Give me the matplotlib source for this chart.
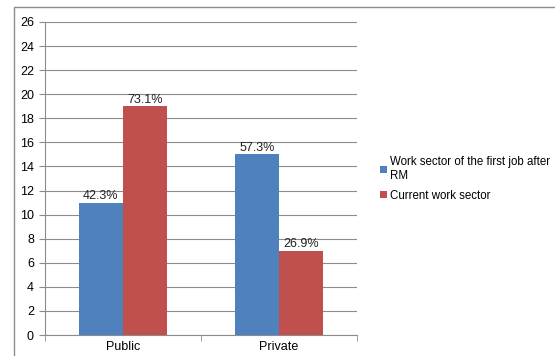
import matplotlib
matplotlib.use("Agg")
import matplotlib.pyplot as plt
from matplotlib.patches import Rectangle
import numpy as np

categories = ["Public", "Private"]
first_job = [11, 15]
current = [19, 7]
first_labels = ["42.3%", "57.3%"]
current_labels = ["73.1%", "26.9%"]
series_names = ["Work sector of the first job after\nRM", "Current work sector"]

plt.rcParams['font.family'] = ['Liberation Sans', 'DejaVu Sans']

fig = plt.figure(figsize=(5.55, 3.56), dpi=100)
ax = fig.add_axes([45/555, 1-335/356, 312/555, 313/356])

fig.patches.append(Rectangle((14/555, -0.05), 1.2, 1-7/356+0.05, transform=fig.transFigure,
                             fill=False, edgecolor="#8c8c8c", linewidth=1.0))

x = np.arange(len(categories))
w = 0.285
b1 = ax.bar(x - w/2, first_job, w, color="#4F81BD", label=series_names[0], zorder=3)
b2 = ax.bar(x + w/2, current, w, color="#C0504D", label=series_names[1], zorder=3)

for rect, lab in zip(b1, first_labels):
    ax.text(rect.get_x() + rect.get_width()/2, rect.get_height() + 0.02, lab,
            ha="center", va="bottom", fontsize=9, color="#222222")
for rect, lab in zip(b2, current_labels):
    ax.text(rect.get_x() + rect.get_width()/2, rect.get_height() + 0.02, lab,
            ha="center", va="bottom", fontsize=9, color="#222222")

ax.set_xlim(-0.5, 1.5)
ax.set_ylim(0, 26)
ax.set_yticks(range(0, 27, 2))
ax.set_xticks(x)
ax.set_xticklabels(categories)
ax.set_xticks([-0.5, 0.5, 1.5], minor=True)
ax.tick_params(axis='x', which='major', length=0, labelsize=9, pad=4)
ax.tick_params(axis='x', which='minor', length=4, color="#8c8c8c")
ax.tick_params(axis='y', length=4, color="#8c8c8c", labelsize=9, pad=4)
ax.yaxis.grid(True, color="#8c8c8c", linewidth=0.8, zorder=0)
ax.set_axisbelow(True)
for s in ["top", "right"]:
    ax.spines[s].set_visible(False)
for s in ["left", "bottom"]:
    ax.spines[s].set_color("#8c8c8c")

leg = fig.legend(handles=[b1, b2], labels=series_names, loc="upper left",
                 bbox_to_anchor=(370/555, 1-146/356), frameon=False, fontsize=8.3,
                 handlelength=0.6, handleheight=0.6, handletextpad=0.25, labelspacing=0.65)

fig.savefig("out.png", dpi=100)
